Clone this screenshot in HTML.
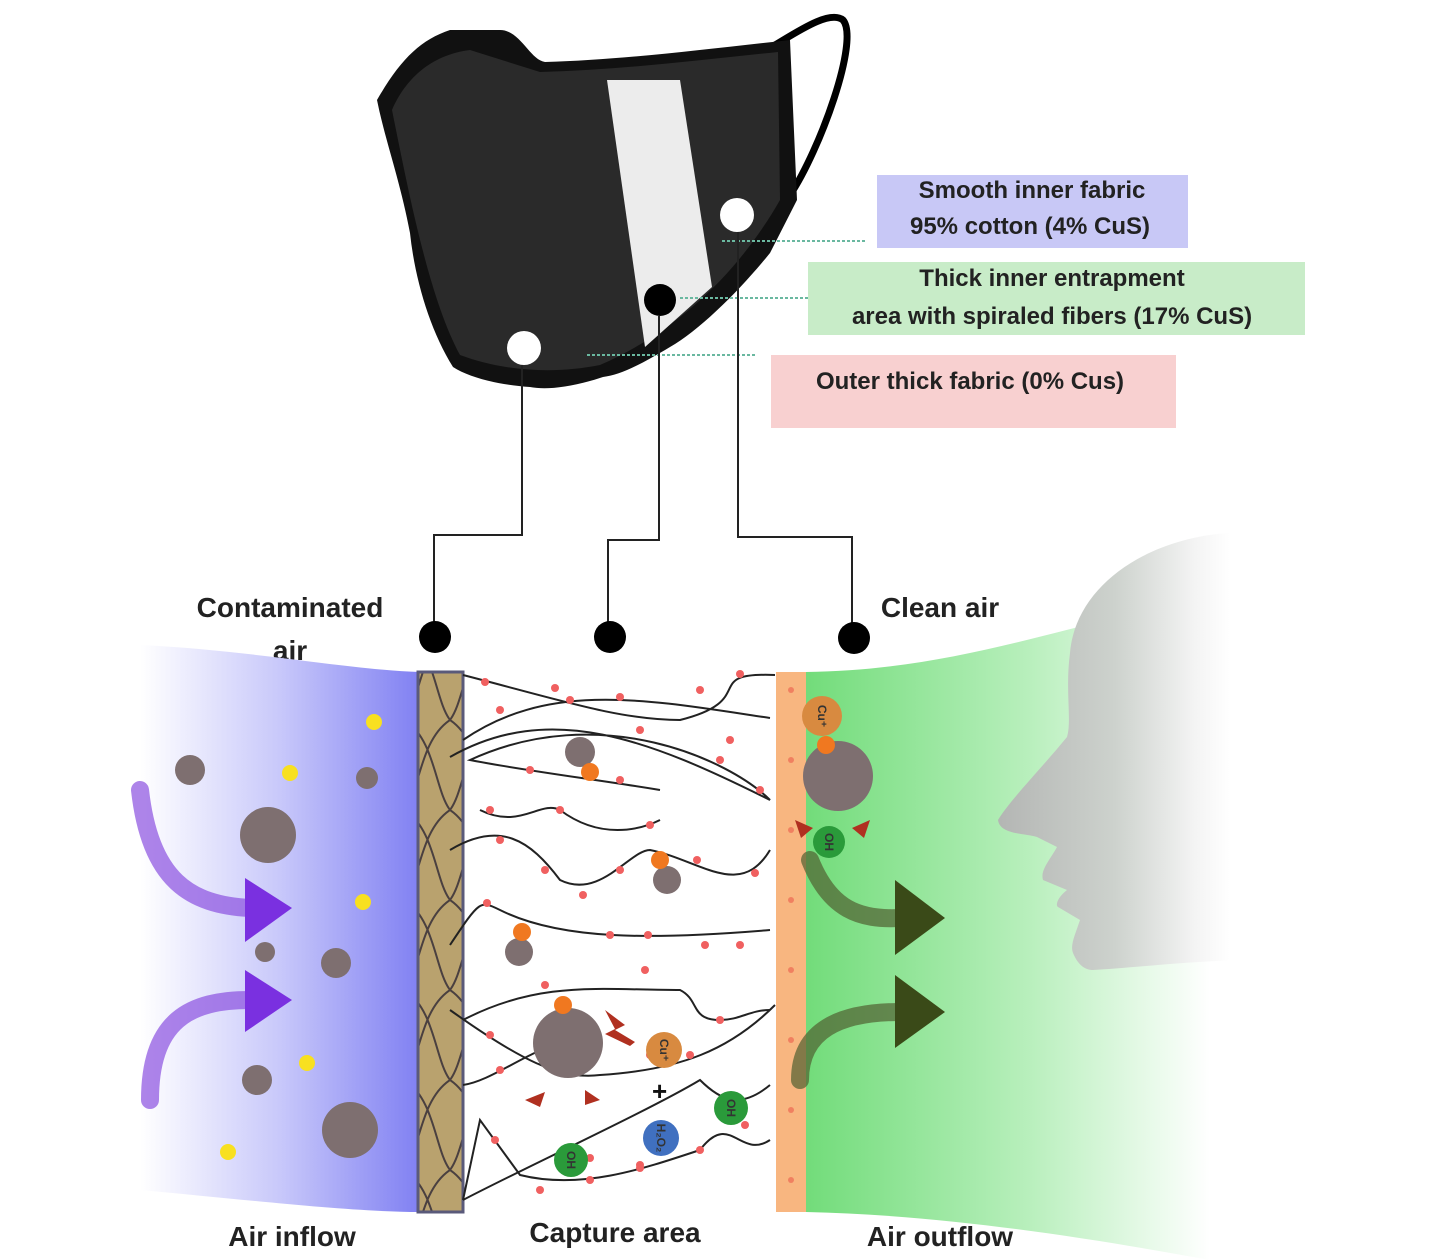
<!DOCTYPE html>
<html><head><meta charset="utf-8"><style>
body{margin:0;background:#fff}
svg{display:block}
text{font-family:"Liberation Sans",sans-serif;font-weight:bold}
</style></head><body>
<svg width="1440" height="1260" viewBox="0 0 1440 1260" xmlns="http://www.w3.org/2000/svg">
<defs>
<linearGradient id="blue" x1="0" x2="1"><stop offset="0" stop-color="#fff"/><stop offset="0.5" stop-color="#c8c8fa"/><stop offset="1" stop-color="#8080f2"/></linearGradient>
<linearGradient id="green" x1="806" x2="1210" gradientUnits="userSpaceOnUse"><stop offset="0" stop-color="#72dc7a"/><stop offset="0.55" stop-color="#b8efbc"/><stop offset="1" stop-color="#fff"/></linearGradient>
<linearGradient id="face" x1="1000" x2="1230" gradientUnits="userSpaceOnUse"><stop offset="0" stop-color="#b4b6b4"/><stop offset="0.5" stop-color="#cdd2cd"/><stop offset="0.85" stop-color="#f4f4f4"/><stop offset="1" stop-color="#fff"/></linearGradient>
<pattern id="weave" width="45" height="90" patternUnits="userSpaceOnUse"><rect width="45" height="90" fill="#b9a26e"/><path d="M0 0 C30 20 30 70 45 90 M45 0 C15 20 15 70 0 90" stroke="#4a4040" stroke-width="2" fill="none"/></pattern>
</defs>
<!-- mask -->
<path d="M775 45 C800 30 830 10 843 20 C860 40 820 150 790 195" stroke="#000" stroke-width="7" fill="none"/>
<path d="M377 100 C400 60 420 40 450 30 L500 30 C520 30 530 60 545 62 C620 60 700 50 790 40 L797 200 L770 253 C740 290 700 330 670 347 C640 365 620 375 603 377 C570 388 545 390 530 387 C500 385 470 378 453 367 C430 330 415 280 410 233 C400 180 385 140 377 100 Z" fill="#111"/>
<path d="M392 110 C405 80 430 55 470 50 L540 72 C620 70 700 60 778 52 L780 200 C740 270 680 330 600 365 C550 375 500 370 460 355 C430 300 410 200 392 110 Z" fill="#2a2a2a"/>
<path d="M607 80 L680 80 L712 287 L645 347 Z" fill="#ececec"/>
<circle cx="737" cy="215" r="17" fill="#fff"/><circle cx="524" cy="348" r="17" fill="#fff"/><circle cx="660" cy="300" r="16" fill="#000"/>
<g stroke="#6ab8a0" stroke-width="2" stroke-dasharray="3 2"><line x1="722" y1="241" x2="866" y2="241"/><line x1="680" y1="298" x2="813" y2="298"/><line x1="587" y1="355" x2="756" y2="355"/></g>
<!-- label boxes -->
<rect x="877" y="175" width="311" height="73" fill="#c8c8f6"/>
<text x="1032" y="198" font-size="24" fill="#222" text-anchor="middle">Smooth inner fabric</text>
<text x="1030" y="234" font-size="24" fill="#222" text-anchor="middle">95% cotton (4% CuS)</text>
<rect x="808" y="262" width="497" height="73" fill="#c8ecc8"/>
<text x="1052" y="286" font-size="24" fill="#222" text-anchor="middle">Thick inner entrapment</text>
<text x="1052" y="324" font-size="24" fill="#222" text-anchor="middle">area with spiraled fibers (17% CuS)</text>
<rect x="771" y="355" width="405" height="73" fill="#f8d0d0"/>
<text x="970" y="389" font-size="24" fill="#222" text-anchor="middle">Outer thick fabric (0% Cus)</text>
<!-- connectors -->
<g stroke="#222" stroke-width="2" fill="none"><path d="M522 365 V535 H434 V625"/><path d="M659 316 V540 H608 V625"/><path d="M738 232 V537 H852 V625"/></g>
<circle cx="435" cy="637" r="16"/><circle cx="610" cy="637" r="16"/><circle cx="854" cy="638" r="16"/>
<text x="290" y="617" font-size="28" fill="#222" text-anchor="middle">Contaminated</text>
<text x="290" y="660" font-size="28" fill="#222" text-anchor="middle">air</text>
<text x="940" y="617" font-size="28" fill="#222" text-anchor="middle">Clean air</text>
<!-- bands -->
<path d="M140 645 C250 650 350 670 420 672 L420 1212 C350 1212 250 1200 140 1190 Z" fill="url(#blue)"/>
<path d="M806 672 C950 670 1050 630 1210 595 L1210 1260 C1100 1240 950 1215 806 1212 Z" fill="url(#green)"/>
<path d="M1227 533 C1140 540 1075 590 1070 653 C1065 690 1072 720 1067 737 C1040 770 1010 800 998 820 C1000 835 1025 833 1037 837 L1057 847 C1050 860 1040 870 1043 880 L1067 890 C1058 897 1055 905 1058 907 L1080 920 C1075 935 1070 945 1073 953 C1078 965 1085 970 1093 970 C1130 968 1180 962 1240 960 L1240 533 Z" fill="url(#face)"/>
<rect x="418" y="672" width="45" height="540" fill="url(#weave)" stroke="#5a5a7a" stroke-width="3"/>
<rect x="776" y="672" width="30" height="540" fill="#f8b680"/>
<g fill="#f08060"><circle cx="791" cy="690" r="3"/><circle cx="791" cy="760" r="3"/><circle cx="791" cy="830" r="3"/><circle cx="791" cy="900" r="3"/><circle cx="791" cy="970" r="3"/><circle cx="791" cy="1040" r="3"/><circle cx="791" cy="1110" r="3"/><circle cx="791" cy="1180" r="3"/></g>
<!-- fibers -->
<g stroke="#222" stroke-width="2" fill="none">
<path d="M463 675 C560 700 620 720 680 720 C760 700 700 672 775 675"/>
<path d="M463 740 C550 680 650 700 770 718"/>
<path d="M450 757 C550 700 650 740 770 800 C730 760 600 700 470 760 C520 770 600 780 660 790"/>
<path d="M480 810 C520 830 540 800 560 810 C600 840 640 830 660 820"/>
<path d="M450 850 C500 820 530 840 560 880 C600 900 630 850 650 850 C700 860 740 900 770 850"/>
<path d="M450 945 C480 900 480 900 500 910 C560 940 650 940 770 930"/>
<path d="M463 1020 C540 980 600 990 680 990 C700 1000 690 1020 720 1020 C740 1020 750 1010 770 1010"/>
<path d="M450 1010 C520 1060 560 1080 600 1075 C680 1070 730 1050 775 1005"/>
<path d="M463 1085 C500 1080 550 1030 600 1040"/>
<path d="M463 1200 C520 1170 650 1110 700 1080 C720 1100 740 1110 770 1085"/>
<path d="M463 1200 L480 1120 L520 1175 C580 1190 640 1170 700 1150 C730 1110 740 1160 770 1140"/>
</g>
<g fill="#f06060">
<circle cx="485" cy="682" r="4"/><circle cx="555" cy="688" r="4"/><circle cx="620" cy="697" r="4"/><circle cx="740" cy="674" r="4"/><circle cx="700" cy="690" r="4"/>
<circle cx="500" cy="710" r="4"/><circle cx="570" cy="700" r="4"/><circle cx="640" cy="730" r="4"/><circle cx="730" cy="740" r="4"/>
<circle cx="530" cy="770" r="4"/><circle cx="620" cy="780" r="4"/><circle cx="720" cy="760" r="4"/><circle cx="760" cy="790" r="4"/>
<circle cx="490" cy="810" r="4"/><circle cx="560" cy="810" r="4"/><circle cx="650" cy="825" r="4"/>
<circle cx="500" cy="840" r="4"/><circle cx="545" cy="870" r="4"/><circle cx="583" cy="895" r="4"/><circle cx="620" cy="870" r="4"/><circle cx="697" cy="860" r="4"/><circle cx="755" cy="873" r="4"/>
<circle cx="487" cy="903" r="4"/><circle cx="610" cy="935" r="4"/><circle cx="648" cy="935" r="4"/><circle cx="705" cy="945" r="4"/><circle cx="740" cy="945" r="4"/>
<circle cx="545" cy="985" r="4"/><circle cx="645" cy="970" r="4"/><circle cx="720" cy="1020" r="4"/>
<circle cx="490" cy="1035" r="4"/><circle cx="500" cy="1070" r="4"/><circle cx="650" cy="1055" r="4"/><circle cx="690" cy="1055" r="4"/>
<circle cx="495" cy="1140" r="4"/><circle cx="590" cy="1158" r="4"/><circle cx="640" cy="1165" r="4"/><circle cx="700" cy="1150" r="4"/><circle cx="745" cy="1125" r="4"/>
<circle cx="540" cy="1190" r="4"/><circle cx="590" cy="1180" r="4"/><circle cx="640" cy="1168" r="4"/>
</g>
<!-- particles -->
<g fill="#7e6f70">
<circle cx="190" cy="770" r="15"/><circle cx="268" cy="835" r="28"/><circle cx="367" cy="778" r="11"/><circle cx="265" cy="952" r="10"/><circle cx="336" cy="963" r="15"/>
<circle cx="257" cy="1080" r="15"/><circle cx="350" cy="1130" r="28"/><circle cx="580" cy="752" r="15"/><circle cx="667" cy="880" r="14"/><circle cx="519" cy="952" r="14"/>
<circle cx="568" cy="1043" r="35"/><circle cx="838" cy="776" r="35"/>
</g>
<g fill="#f8e020"><circle cx="374" cy="722" r="8"/><circle cx="290" cy="773" r="8"/><circle cx="363" cy="902" r="8"/><circle cx="307" cy="1063" r="8"/><circle cx="228" cy="1152" r="8"/></g>
<g fill="#f07820"><circle cx="590" cy="772" r="9"/><circle cx="660" cy="860" r="9"/><circle cx="522" cy="932" r="9"/><circle cx="563" cy="1005" r="9"/><circle cx="826" cy="745" r="9"/></g>
<circle cx="822" cy="716" r="20" fill="#d88a40"/><circle cx="664" cy="1050" r="18" fill="#d88a40"/>
<circle cx="829" cy="842" r="16" fill="#2a9a3a"/><circle cx="571" cy="1160" r="17" fill="#2a9a3a"/><circle cx="731" cy="1108" r="17" fill="#2a9a3a"/><circle cx="661" cy="1138" r="18" fill="#4070c0"/>
<g font-size="12" fill="#333" text-anchor="middle">
<text transform="translate(818 716) rotate(90)">Cu⁺</text><text transform="translate(660 1050) rotate(90)">Cu⁺</text>
<text transform="translate(825 842) rotate(90)">OH</text><text transform="translate(567 1160) rotate(90)">OH</text><text transform="translate(727 1108) rotate(90)">OH</text><text transform="translate(657 1138) rotate(90)">H₂O₂</text>
</g>
<text x="652" y="1100" font-size="26" fill="#111">+</text>
<g fill="#b03020"><path d="M605 1010 l20 15 -10 5 20 12 -5 4 -25 -12 10 -5z"/><path d="M525 1100 l20 -8 -5 15z"/><path d="M600 1100 l-15 -10 0 15z"/><path d="M795 820 l18 8 -12 10z"/><path d="M870 820 l-18 8 12 10z"/></g>
<!-- arrows -->
<g fill="none" stroke-linecap="round">
<path d="M140 790 C150 880 190 905 250 908" stroke="#8a50e0" stroke-width="18" opacity="0.7"/>
<path d="M150 1100 C150 1020 190 1000 250 1000" stroke="#8a50e0" stroke-width="18" opacity="0.7"/>
<path d="M810 860 C830 910 860 920 900 918" stroke="#506030" stroke-width="18" opacity="0.7"/>
<path d="M800 1080 C800 1030 840 1012 900 1012" stroke="#506030" stroke-width="18" opacity="0.7"/>
</g>
<path d="M245 878 L292 908 L245 942 Z" fill="#7a30e0"/><path d="M245 970 L292 1000 L245 1032 Z" fill="#7a30e0"/>
<path d="M895 880 L945 918 L895 955 Z" fill="#3a4a18"/><path d="M895 975 L945 1012 L895 1048 Z" fill="#3a4a18"/>
<text x="292" y="1246" font-size="28" fill="#222" text-anchor="middle">Air inflow</text>
<text x="615" y="1242" font-size="28" fill="#222" text-anchor="middle">Capture area</text>
<text x="940" y="1246" font-size="28" fill="#222" text-anchor="middle">Air outflow</text>
</svg>
</body></html>
